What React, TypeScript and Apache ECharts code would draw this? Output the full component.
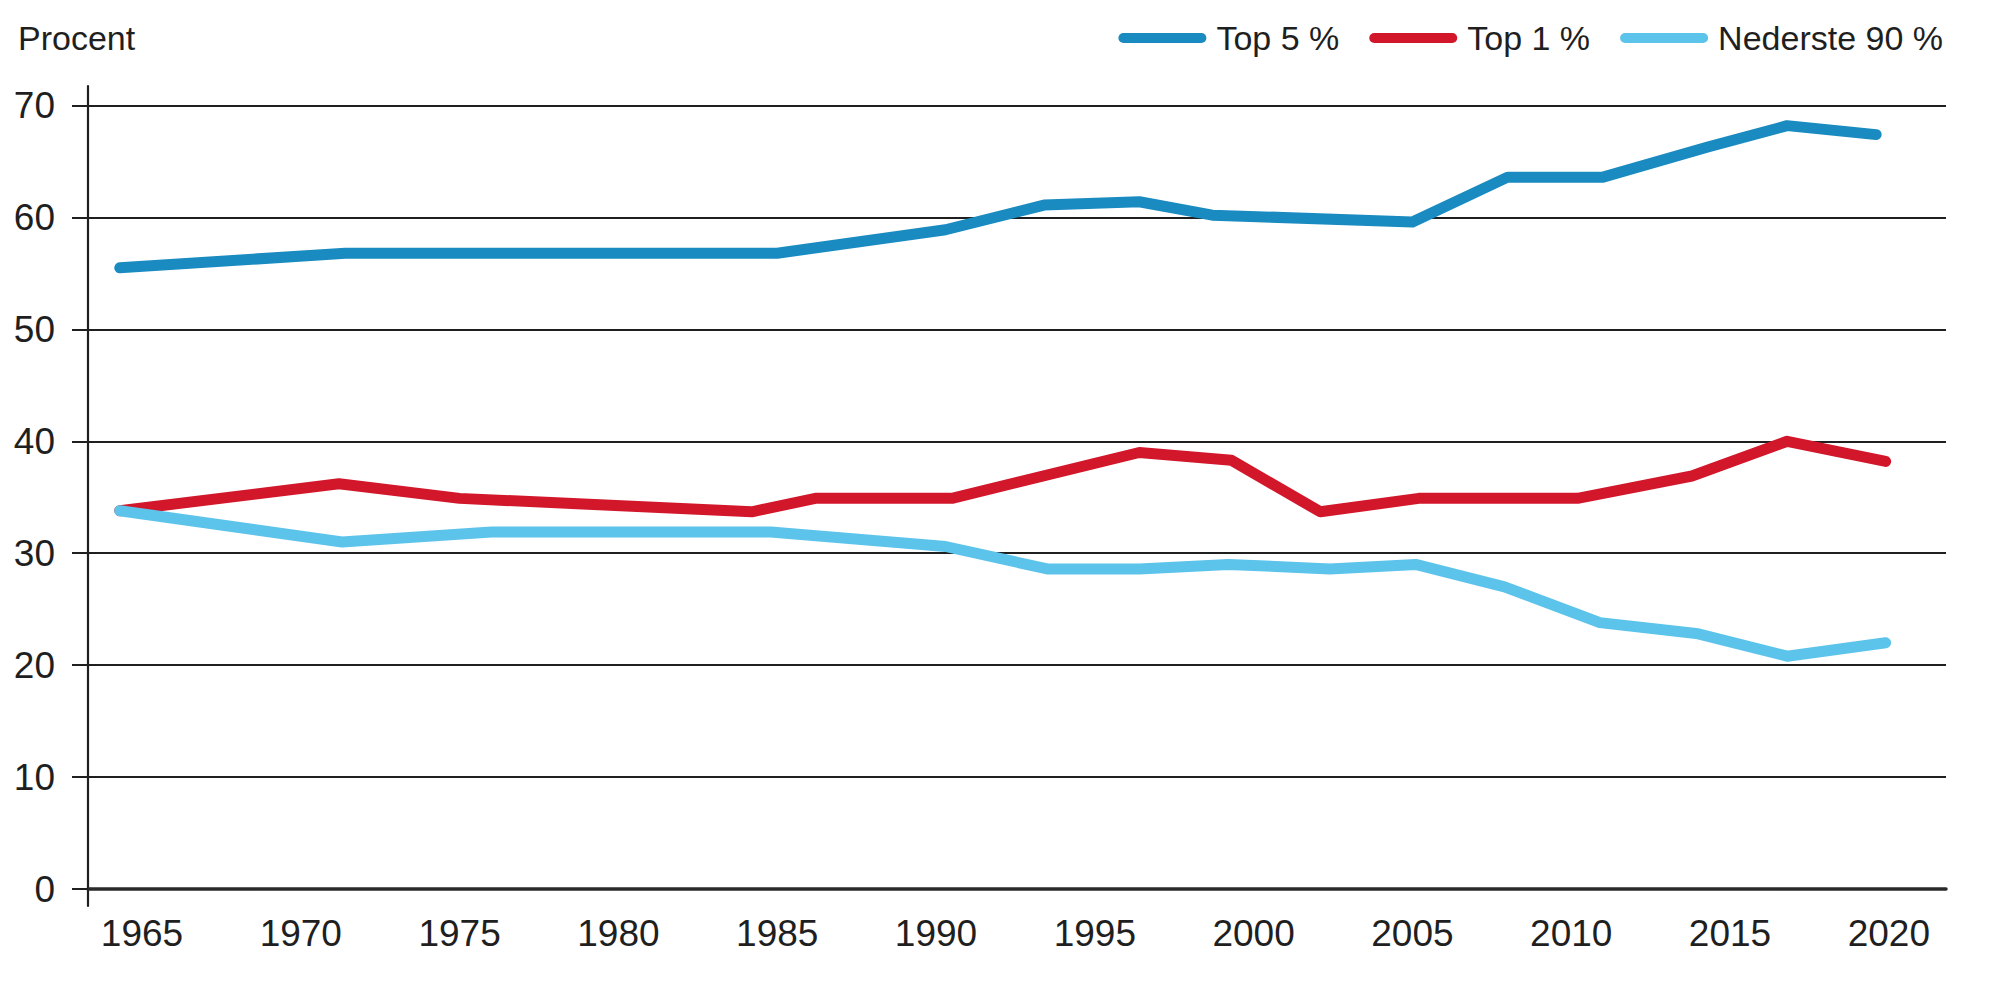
import React, { useEffect, useRef } from "react";
import * as echarts from "echarts";

const xTickLabels = [1965, 1970, 1975, 1980, 1985, 1990, 1995, 2000, 2005, 2010, 2015, 2020];
const yTicks = [0, 10, 20, 30, 40, 50, 60, 70];

const seriesNames = ["Top 5 %", "Top 1 %", "Nederste 90 %"];

const top5Years = [1964.3, 1971.4, 1985, 1990.3, 1993.4, 1996.4, 1998.7, 2005, 2008, 2011, 2014.3, 2016.8, 2019.6];
const top5Values = [55.5, 56.8, 56.8, 58.9, 61.1, 61.4, 60.2, 59.6, 63.6, 63.6, 66.3, 68.2, 67.4];

const top1Years = [1964.3, 1971.2, 1975, 1984.2, 1986.2, 1990.5, 1996.4, 1999.3, 2002.1, 2005.2, 2010.2, 2013.8, 2016.8, 2019.9];
const top1Values = [33.8, 36.2, 34.9, 33.7, 34.9, 34.9, 39.0, 38.3, 33.7, 34.9, 34.9, 36.9, 40.0, 38.2];

const bottom90Years = [1964.3, 1971.3, 1976, 1984.8, 1990.3, 1993.5, 1996.4, 1999.2, 2002.4, 2005.1, 2007.9, 2010.9, 2014.0, 2016.8, 2019.9];
const bottom90Values = [33.8, 31.0, 31.9, 31.9, 30.6, 28.6, 28.6, 29.0, 28.6, 29.0, 27.0, 23.8, 22.8, 20.8, 22.0];

const colors = ["#1a8bc0", "#d2172b", "#5cc3ea"];

const FONT = "'Liberation Sans Narrow', 'Arial Narrow', 'Liberation Sans', Arial, sans-serif";
const INK = "#1f1f1f";

const zip = (xs: number[], ys: number[]) => xs.map((x, i) => [x, ys[i]]);

const capsule = "path://M5,0 L83,0 A5,5 0 0 1 83,10 L5,10 A5,5 0 0 1 5,0 Z";

export default function App() {
  const ref = useRef<HTMLDivElement>(null);

  useEffect(() => {
    if (!ref.current) return;
    const chart = echarts.init(ref.current, null, { renderer: "svg" });

    const lineSeries = (name: string, data: number[][], color: string) => ({
      name,
      type: "line",
      xAxisIndex: 0,
      yAxisIndex: 0,
      data,
      symbol: "none",
      smooth: false,
      lineStyle: { width: 11, color, cap: "round", join: "round" },
      itemStyle: { color },
      emphasis: { disabled: true },
    });

    chart.setOption({
      animation: false,
      backgroundColor: "#ffffff",
      textStyle: { fontFamily: FONT },
      title: {
        text: "Procent",
        left: 13,
        top: 16,
        textStyle: { fontFamily: FONT, fontSize: 34, fontWeight: "normal", color: INK },
      },
      legend: {
        right: 52,
        top: 16,
        itemWidth: 88,
        itemHeight: 11,
        itemGap: 30,
        icon: capsule,
        data: seriesNames,
        textStyle: { fontFamily: FONT, fontSize: 34, color: INK, padding: [0, 0, 0, 5] },
      },
      grid: [
        { left: 88, right: 54, top: 105.5, bottom: 118, containLabel: false },
        { left: 88, right: 54, top: 86, bottom: 101, containLabel: false },
      ],
      xAxis: [
        {
          type: "value",
          gridIndex: 0,
          min: 1963.3,
          max: 2021.8,
          axisLine: { show: true, onZero: false, lineStyle: { color: "#2a2a2a", width: 3.5 } },
          axisTick: { show: false },
          splitLine: { show: false },
          axisLabel: {
            customValues: xTickLabels,
            formatter: (v: number) => String(Math.round(v)),
            fontFamily: FONT,
            fontSize: 37,
            color: INK,
            margin: 26,
          },
        },
        { type: "value", gridIndex: 1, show: false, min: 0, max: 1 },
      ],
      yAxis: [
        {
          type: "value",
          gridIndex: 0,
          min: 0,
          max: 70,
          interval: 10,
          axisLine: { show: false },
          axisTick: { show: true, length: 16, lineStyle: { color: INK, width: 2 } },
          splitLine: { show: true, lineStyle: { color: INK, width: 2.2 } },
          axisLabel: {
            customValues: yTicks,
            fontFamily: FONT,
            fontSize: 37,
            color: INK,
            margin: 33,
            padding: [4, 0, 0, 0],
          },
        },
        {
          type: "value",
          gridIndex: 1,
          min: 0,
          max: 1,
          axisLine: { show: true, lineStyle: { color: INK, width: 2.2 } },
          axisTick: { show: false },
          axisLabel: { show: false },
          splitLine: { show: false },
        },
      ],
      series: [
        lineSeries(seriesNames[0], zip(top5Years, top5Values), colors[0]),
        lineSeries(seriesNames[1], zip(top1Years, top1Values), colors[1]),
        lineSeries(seriesNames[2], zip(bottom90Years, bottom90Values), colors[2]),
      ],
    });

    return () => chart.dispose();
  }, []);

  return (
    <div
      ref={ref}
      style={{ position: "absolute", left: 0, top: 0, width: 2000, height: 1007, background: "#fff" }}
    />
  );
}
